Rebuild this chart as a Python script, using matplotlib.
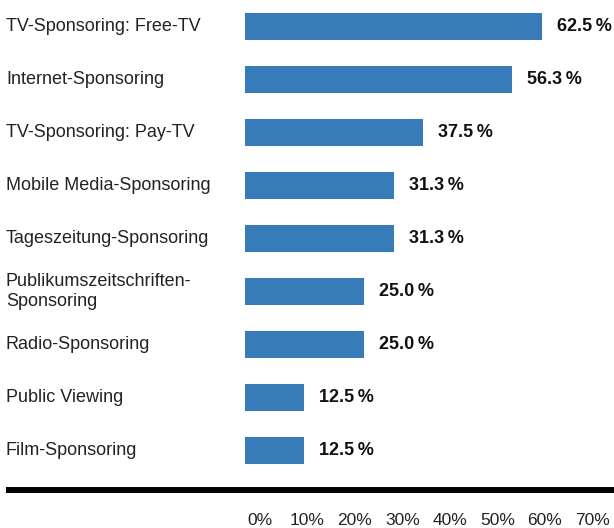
import matplotlib.pyplot as plt
from matplotlib.lines import Line2D
from matplotlib.transforms import ScaledTranslation, blended_transform_factory

categories = [
    "TV-Sponsoring: Free-TV",
    "Internet-Sponsoring",
    "TV-Sponsoring: Pay-TV",
    "Mobile Media-Sponsoring",
    "Tageszeitung-Sponsoring",
    "Publikumszeitschriften-\nSponsoring",
    "Radio-Sponsoring",
    "Public Viewing",
    "Film-Sponsoring",
]
values = [62.5, 56.3, 37.5, 31.3, 31.3, 25.0, 25.0, 12.5, 12.5]
tick_values = [0, 10, 20, 30, 40, 50, 60, 70]
tick_labels = ["%d%%" % t for t in tick_values]

bar_color = "#377cb9"
plt.rcParams['font.family'] = ['Liberation Sans', 'DejaVu Sans']

W, H = 614, 528
fig = plt.figure(figsize=(W / 100, H / 100), dpi=100)
# axes spans from bar origin (x=245px) to right edge
ax = fig.add_axes([245 / W, (H - 477) / H, (W - 245) / W, 477 / H])

ypos = list(range(len(categories)))
ax.barh(ypos, values, height=0.5, color=bar_color)
ax.set_xlim(0, (W - 245) / 4.75)
ax.set_ylim(len(categories) - 0.5, -0.5)

for y, v in zip(ypos, values):
    ax.annotate("%.1f\u2009%%" % v, xy=(v, y), xytext=(15, 0),
                textcoords="offset pixels", va="center", ha="left",
                fontsize=13, fontweight="bold", color="#111111")

# category labels at the left edge of the figure
lab_tr = blended_transform_factory(fig.transFigure, ax.transData)
for y, c in zip(ypos, categories):
    ax.text(6 / W, y, c, transform=lab_tr, ha="left", va="center",
            fontsize=13, color="#222222", linespacing=1.2)

ax.set_yticks([])
ax.set_xticks(tick_values)
ax.set_xticklabels(tick_labels, fontsize=12.5, color="#222222")
ax.tick_params(axis="x", length=0, pad=26)
shift = ScaledTranslation(15 / 100, 0, fig.dpi_scale_trans)
for lbl in ax.get_xticklabels():
    lbl.set_transform(lbl.get_transform() + shift)

for s in ax.spines.values():
    s.set_visible(False)

# thick black baseline
fig.add_artist(Line2D([6 / W, 1.0], [(H - 490) / H] * 2, transform=fig.transFigure,
                      color="black", linewidth=4.3, solid_capstyle="butt"))

fig.savefig("out.png", dpi=100)
